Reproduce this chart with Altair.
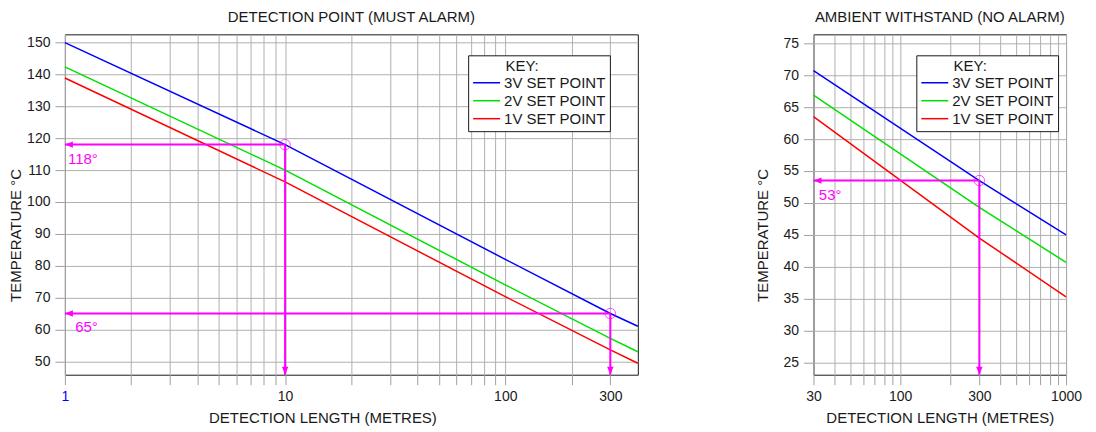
import altair as alt
import pandas as pd

series = ["3V SET POINT", "2V SET POINT", "1V SET POINT"]
colors = ["#0000ff", "#00e000", "#ff0000"]
magenta = "#ff00ff"

# Left panel: detection point (must alarm)
left_x = [1, 10, 100, 300, 400]
left_3v = [150.0, 118.0, 82.0, 65.0, 61.0]
left_2v = [142.4, 110.0, 74.0, 57.2, 53.0]
left_1v = [138.9, 106.3, 70.3, 53.6, 49.4]
left_mark_x = [10, 300]
left_mark_y = [118, 65]
left_mark_label = ["118°", "65°"]
left_x_ticks = [1, 2, 3, 4, 5, 6, 7, 8, 9, 10, 20, 30, 40, 50, 60, 70, 80, 90, 100, 200, 300]
left_x_labels = [1, 10, 100, 300]
left_y_ticks = [50, 60, 70, 80, 90, 100, 110, 120, 130, 140, 150]

# Right panel: ambient withstand (no alarm)
right_x = [30, 300, 1000]
right_3v = [70.7, 53.5, 45.0]
right_2v = [66.9, 49.3, 40.7]
right_1v = [63.5, 44.5, 35.3]
right_mark_x = [300]
right_mark_y = [53.5]
right_mark_label = ["53°"]
right_x_ticks = [30, 40, 50, 60, 70, 80, 90, 100, 200, 300, 400, 500, 600, 700, 800, 900, 1000]
right_x_labels = [30, 100, 300, 1000]
right_y_ticks = [25, 30, 35, 40, 45, 50, 55, 60, 65, 70, 75]

FONT = "Liberation Sans"
LEFT_ARROW = "M0,0L2,-0.8L2,0.8Z"
DOWN_ARROW = "M0,0L-0.8,-2L0.8,-2Z"
LEGEND_LINE = "M-3,0L3,0"
INK = "#1a1a1a"


def panel(title, xs, ys, x_domain, y_domain, x_ticks, x_labels, y_ticks,
          mx, my, mlabel, legend_x, width, label_dx, blue_first, x_title_x, y_title_pad):
    rows = []
    for s, vals in zip(series, ys):
        for xv, yv in zip(xs, vals):
            rows.append({"x": xv, "y": yv, "series": s})
    df = pd.DataFrame(rows)
    ann = pd.DataFrame({"x": mx, "y": my, "label": mlabel,
                        "xmin": [x_domain[0]] * len(mx),
                        "ymin": [y_domain[0]] * len(mx)})

    xscale = alt.Scale(type="log", domain=x_domain, nice=False)
    yscale = alt.Scale(domain=y_domain, nice=False, zero=False)
    label_test = "indexof(%s, datum.value) >= 0" % str(x_labels)
    xaxis_args = dict(
        title="DETECTION LENGTH (METRES)", values=x_ticks,
        labelExpr="%s ? format(datum.value, 'd') : ''" % label_test,
        labelOverlap=False, labelFlush=False, titlePadding=7,
        labelColor=alt.condition("datum.value == 1", alt.value("#0000ff"), alt.value(INK)) if blue_first else INK,
    )
    if x_title_x is not None:
        xaxis_args["titleX"] = x_title_x
    xaxis = alt.Axis(**xaxis_args)
    yaxis = alt.Axis(title="TEMPERATURE °C", values=y_ticks, labelOverlap=False,
                     titleY=201, titlePadding=y_title_pad)

    X = lambda f: alt.X(f, type="quantitative", scale=xscale, axis=xaxis)
    Y = lambda f: alt.Y(f, type="quantitative", scale=yscale, axis=yaxis)

    lines = alt.Chart(df).mark_line(strokeWidth=1.5).encode(
        x=X("x"), y=Y("y"),
        color=alt.Color("series:N", scale=alt.Scale(domain=series, range=colors),
                        sort=series,
                        legend=alt.Legend(
                            orient="none", legendX=legend_x, legendY=21,
                            title="\u200b" + "\u00a0" * 8 + "KEY:", titleFontWeight="normal",
                            titleFontSize=15, titleFont=FONT, titleColor=INK,
                            labelFontSize=15, labelFont=FONT, labelColor=INK,
                            symbolType=LEGEND_LINE, symbolStrokeWidth=1.5, symbolSize=81,
                            symbolOffset=7, labelOffset=10,
                            strokeColor=INK, fillColor="white", padding=4,
                            rowPadding=2, titlePadding=1,
                        )),
    )
    base = alt.Chart(ann)
    hrule = base.mark_rule(color=magenta, strokeWidth=2).encode(
        x=X("xmin"), x2="x:Q", y=Y("y"))
    vrule = base.mark_rule(color=magenta, strokeWidth=2).encode(
        x=X("x"), y=Y("y"), y2="ymin:Q")
    circ = base.mark_point(shape="circle", size=110, filled=False, color=magenta,
                           strokeWidth=1).encode(x=X("x"), y=Y("y"))
    larrow = base.mark_point(shape=LEFT_ARROW, size=64, filled=True, color=magenta,
                             opacity=1).encode(x=X("xmin"), y=Y("y"))
    darrow = base.mark_point(shape=DOWN_ARROW, size=64, filled=True, color=magenta,
                             opacity=1).encode(x=X("x"), y=Y("ymin"))
    text = base.mark_text(align="right", baseline="top", dx=label_dx, dy=7,
                          fontSize=15, font=FONT, color=magenta).encode(
        x=X("xmin"), y=Y("y"), text="label:N")
    return alt.layer(lines, hrule, vrule, circ, larrow, darrow, text).properties(
        width=width, height=341,
        title=alt.TitleParams(title, fontSize=15, font=FONT, fontWeight="normal",
                              color=INK, offset=9))


left = panel("DETECTION POINT (MUST ALARM)", left_x, [left_3v, left_2v, left_1v],
             [1, 400], [45.8, 152.6], left_x_ticks, left_x_labels, left_y_ticks,
             left_mark_x, left_mark_y, left_mark_label, 404, 574, 33, True, 258, 3)
right = panel("AMBIENT WITHSTAND (NO ALARM)", right_x, [right_3v, right_2v, right_1v],
              [30, 1000], [23.1, 76.4], right_x_ticks, right_x_labels, right_y_ticks,
              right_mark_x, right_mark_y, right_mark_label, 103, 253, 28, False, None, 13)

chart = alt.hconcat(left, right, spacing=112).resolve_scale(color="independent").resolve_legend(
    color="independent").properties(padding={"left": 0, "top": 1, "right": 5, "bottom": 0}).configure(
    font=FONT).configure_view(stroke=INK, strokeWidth=1).configure_axis(
    labelFont=FONT, titleFont=FONT, labelFontSize=14, titleFontSize=15,
    titleFontWeight="normal", labelColor=INK, titleColor=INK, labelOverlap=False,
    gridColor="#b0b0b0", gridWidth=1, gridOpacity=1, tickColor="#a0a0a0", tickSize=10,
    tickWidth=1, domain=False, labelPadding=5)

chart.save("out.html", embed_options={"renderer": "svg", "actions": False})
